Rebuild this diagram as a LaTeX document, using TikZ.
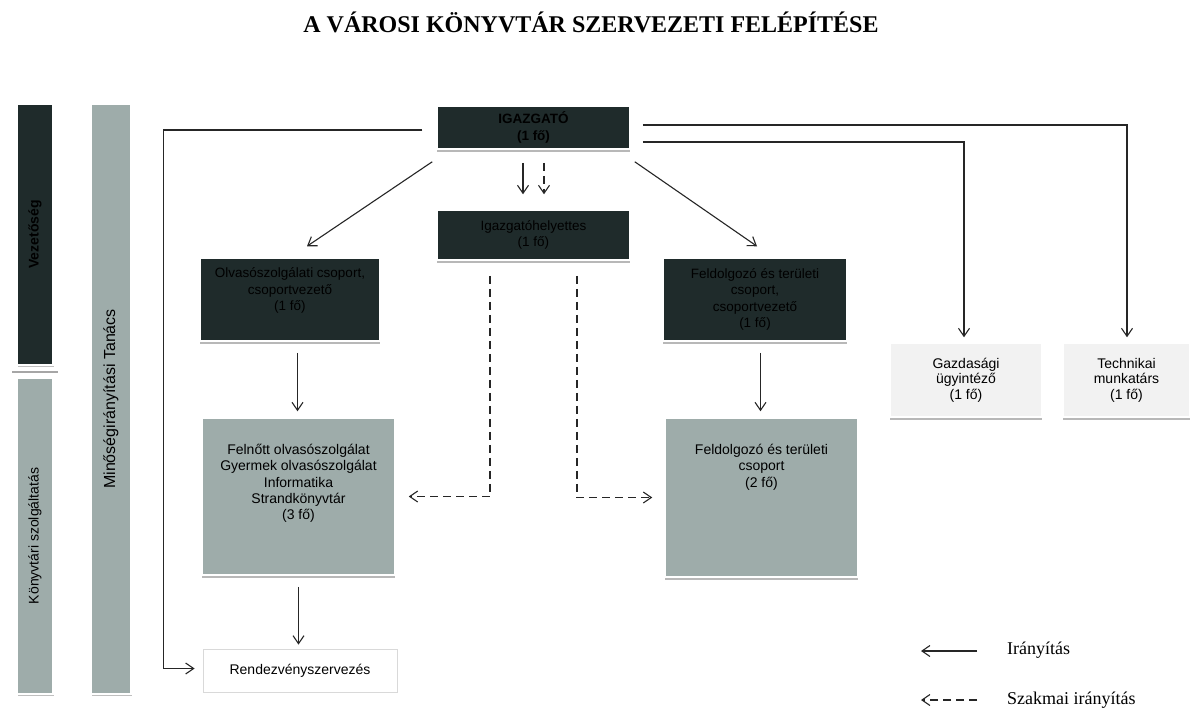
\documentclass[tikz,border=0pt]{standalone}
\usepackage{graphicx}
\usepackage{fontspec}
\setmainfont{Liberation Sans}
\newfontfamily\serifont{Liberation Serif}
\usetikzlibrary{arrows.meta,calc,shadows}
\definecolor{darkfill}{HTML}{1F2B2B}
\definecolor{midgrey}{HTML}{9EACAA}
\definecolor{lightfill}{HTML}{F2F2F2}
\tikzset{
  x=1pt,y=-1pt,
  box/.style={rectangle, inner sep=0pt, align=center, draw=white, line width=1.5pt,
    drop shadow={shadow xshift=0pt, shadow yshift=-3pt, fill=black!28, opacity=1},
    font=\fontsize{13.5}{16.5}\selectfont},
  darkbox/.style={box, fill=darkfill, text=black},
  greybox/.style={box, fill=midgrey},
  lightbox/.style={box, fill=lightfill, font=\fontsize{14}{15.5}\selectfont},
  whitebox/.style={rectangle, inner sep=0pt, fill=white, draw=black!15, line width=0.8pt,
    font=\fontsize{14}{16}\selectfont},
  btext/.style={inner sep=0pt, align=center, font=\fontsize{14}{16.2}\selectfont},
  bar/.style={rectangle, inner sep=0pt, draw=white, line width=1.5pt,
    drop shadow={shadow xshift=1pt, shadow yshift=-2pt, fill=black!25, opacity=1},
    font=\fontsize{14}{16}\selectfont},
  arr/.style={-{Straight Barb[length=8pt,width=11pt]}, line width=1.1pt, draw=black!85},
  darr/.style={arr, dash pattern=on 8pt off 5pt},
  legtext/.style={font=\serifont\fontsize{18}{20}\selectfont, anchor=west, inner sep=0pt},
}
\begin{document}
\begin{tikzpicture}
\useasboundingbox[fill=white] (0,0) rectangle (1192,716);

% title
\node[font=\serifont\bfseries\fontsize{24}{26}\selectfont] (title) at (591,22) {A VÁROSI KÖNYVTÁR SZERVEZETI FELÉPÍTÉSE};

% left bars
\node[bar, fill=darkfill, minimum width=36pt, minimum height=261pt] (vez) at (35,234.5) {\rotatebox{90}{\bfseries Vezetőség}};
\node[bar, fill=midgrey, minimum width=36pt, minimum height=316pt] (konyv) at (35,536) {\rotatebox{90}{Könyvtári szolgáltatás}};
\draw[black!35, line width=2pt] ($(vez.south west)+(-4,6)$) -- ($(vez.south east)+(4,6)$);
\node[bar, fill=midgrey, minimum width=40pt, minimum height=590pt, font=\fontsize{16}{18}\selectfont] (min) at (111,399) {\rotatebox{90}{Minőségirányítási Tanács}};

% boxes
\node[darkbox, minimum width=193pt, minimum height=43pt, font=\bfseries\fontsize{13.5}{16.5}\selectfont] (igaz) at (533.5,127.5) {IGAZGATÓ\\(1 fő)};
\node[darkbox, minimum width=193pt, minimum height=50pt] (hely) at (533.5,235) {Igazgatóhelyettes\\(1 fő)};
\node[darkbox, minimum width=180pt, minimum height=83pt] (olv) at (290,299.5) {Olvasószolgálati csoport,\\csoportvezető\\(1 fő)\\[4pt]{}};
\node[darkbox, minimum width=184pt, minimum height=83pt] (feld) at (755,299.5) {Feldolgozó és területi\\csoport,\\csoportvezető\\(1 fő)};
\node[lightbox, minimum width=152pt, minimum height=74pt] (gazd) at (966,380) {Gazdasági\\ügyintéző\\(1 fő)};
\node[lightbox, minimum width=127pt, minimum height=74pt] (tech) at (1126.5,380) {Technikai\\munkatárs\\(1 fő)};
\node[greybox, minimum width=193pt, minimum height=157pt] (bigL) at (298.5,496.5) {};
\node[btext, anchor=north] (bigLt) at ($(bigL.north)+(0,27)$) {Felnőtt olvasószolgálat\\Gyermek olvasószolgálat\\Informatika\\Strandkönyvtár\\(3 fő)};
\node[greybox, minimum width=193pt, minimum height=159pt] (bigR) at (761.5,497.5) {};
\node[btext, anchor=north] (bigRt) at ($(bigR.north)+(0,27)$) {Feldolgozó és területi\\csoport\\(2 fő)};
\node[whitebox, minimum width=194pt, minimum height=43pt] (rend) at (300,670.5) {Rendezvényszervezés};

% connectors
\draw[arr] ($(igaz.west)+(-14,2.5)$) -- ($(igaz.west -| min.east)+(32,2.5)$) |- ($(rend.west)+(-8,-2)$);
\draw[arr] ($(igaz.south west)+(-4,12)$) -- ($(olv.north)+(17,-11)$);
\draw[arr] ($(igaz.south east)+(4,12)$) -- ($(feld.north)+(2,-11)$);
\draw[arr] ($(igaz.south)+(-10.5,13)$) -- ($(hely.north)+(-10.5,-15)$);
\draw[darr] ($(igaz.south)+(10.5,13)$) -- ($(hely.north)+(10.5,-15)$);
\draw[arr] ($(igaz.east)+(12,-2.5)$) -| ($(tech.north)+(0.5,-5)$);
\draw[arr] ($(igaz.east)+(12,14.5)$) -| ($(gazd.north)+(-2,-5)$);
\draw[arr] ($(olv.south -| bigL.north)+(-1,11)$) -- ($(bigL.north)+(-1,-6)$);
\draw[arr] ($(feld.south -| bigR.north)+(-1,11)$) -- ($(bigR.north)+(-1,-6)$);
\draw[arr] ($(bigL.south)+(0,11)$) -- ($(bigL.south |- rend.north)+(0,-4)$);
\draw[darr] ($(hely.south)+(-43.5,15)$) |- ($(bigL.east)+(13,0)$);
\draw[darr] ($(hely.south)+(43.5,15)$) |- ($(bigR.west)+(-12,0)$);

% legend
\node[legtext] (leg1) at (1007,650) {Irányítás};
\node[legtext] (leg2) at (1007,700) {Szakmai irányítás};
\draw[arr] ($(leg1.west)+(-30,1)$) -- ($(leg1.west)+(-86,1)$);
\draw[darr] ($(leg2.west)+(-30,0)$) -- ($(leg2.west)+(-86,0)$);
\end{tikzpicture}
\end{document}
